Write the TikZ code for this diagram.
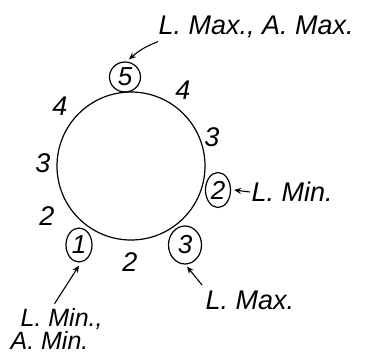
\documentclass[tikz,border=0pt]{standalone}
\usepackage{fontspec}
\setmainfont{Liberation Sans}
\usetikzlibrary{arrows.meta,shapes.geometric}
\begin{document}
\begin{tikzpicture}[x=1pt,y=-1pt,line width=1.2pt,
  every node/.style={font=\fontsize{27}{30}\selectfont\itshape,inner sep=1pt},
  peak/.style={draw,ellipse,inner sep=0pt,font=\fontsize{26}{27}\selectfont\itshape},
  note/.style={font=\fontsize{27}{31}\selectfont\itshape},
  tag/.style={-{Stealth[length=7pt,width=6pt]},line width=1.1pt}]
\useasboundingbox (0,0) rectangle (370,358);
% ring
\node[draw,circle,minimum size=148pt,inner sep=0pt] (ring) at (131,166) {};
% extrema on the ring
\node[peak,minimum width=31pt,minimum height=30pt] (n5) at (125,77) {5};
\node[peak,minimum width=25pt,minimum height=35pt] (n2) at (218,190) {2};
\node[peak,minimum width=33pt,minimum height=38pt] (n3) at (185,245) {3};
\node[peak,minimum width=26pt,minimum height=34pt] (n1) at (79,245) {1};
% values between
\node (v4a) at (60,106) {4};
\node (v4b) at (183,90) {4};
\node (v3a) at (212,137) {3};
\node (v3b) at (43,163) {3};
\node (v2a) at (47,216) {2};
\node (v2b) at (130,262) {2};
% labels
\node[note,anchor=west] (lamax) at (157,27) {L. Max., A. Max.};
\node[note,anchor=west] (lmin) at (250,192) {L. Min.};
\node[note,anchor=west] (lmax) at (204,300) {L. Max.};
\node[note,font=\fontsize{25}{23}\selectfont\itshape,anchor=south west,align=left,inner sep=0pt] (lamin) at (10,350) {\hspace{10pt}L. Min.,\\A. Min.};
% arrows
\draw[tag] ([xshift=1pt,yshift=-2pt]lamax.south west) to[bend right=10] ([xshift=4pt,yshift=2pt]n5.north);
\draw[tag] (lmin.west) -- ([xshift=3pt]n2.east);
\draw[tag] ([xshift=-2pt,yshift=4pt]lmax.north west) -- ([xshift=2pt,yshift=-2pt]n3.south);
\draw[tag] ([xshift=-2pt,yshift=4pt]lamin.north) -- ([yshift=-3pt]n1.south);
\end{tikzpicture}
\end{document}
